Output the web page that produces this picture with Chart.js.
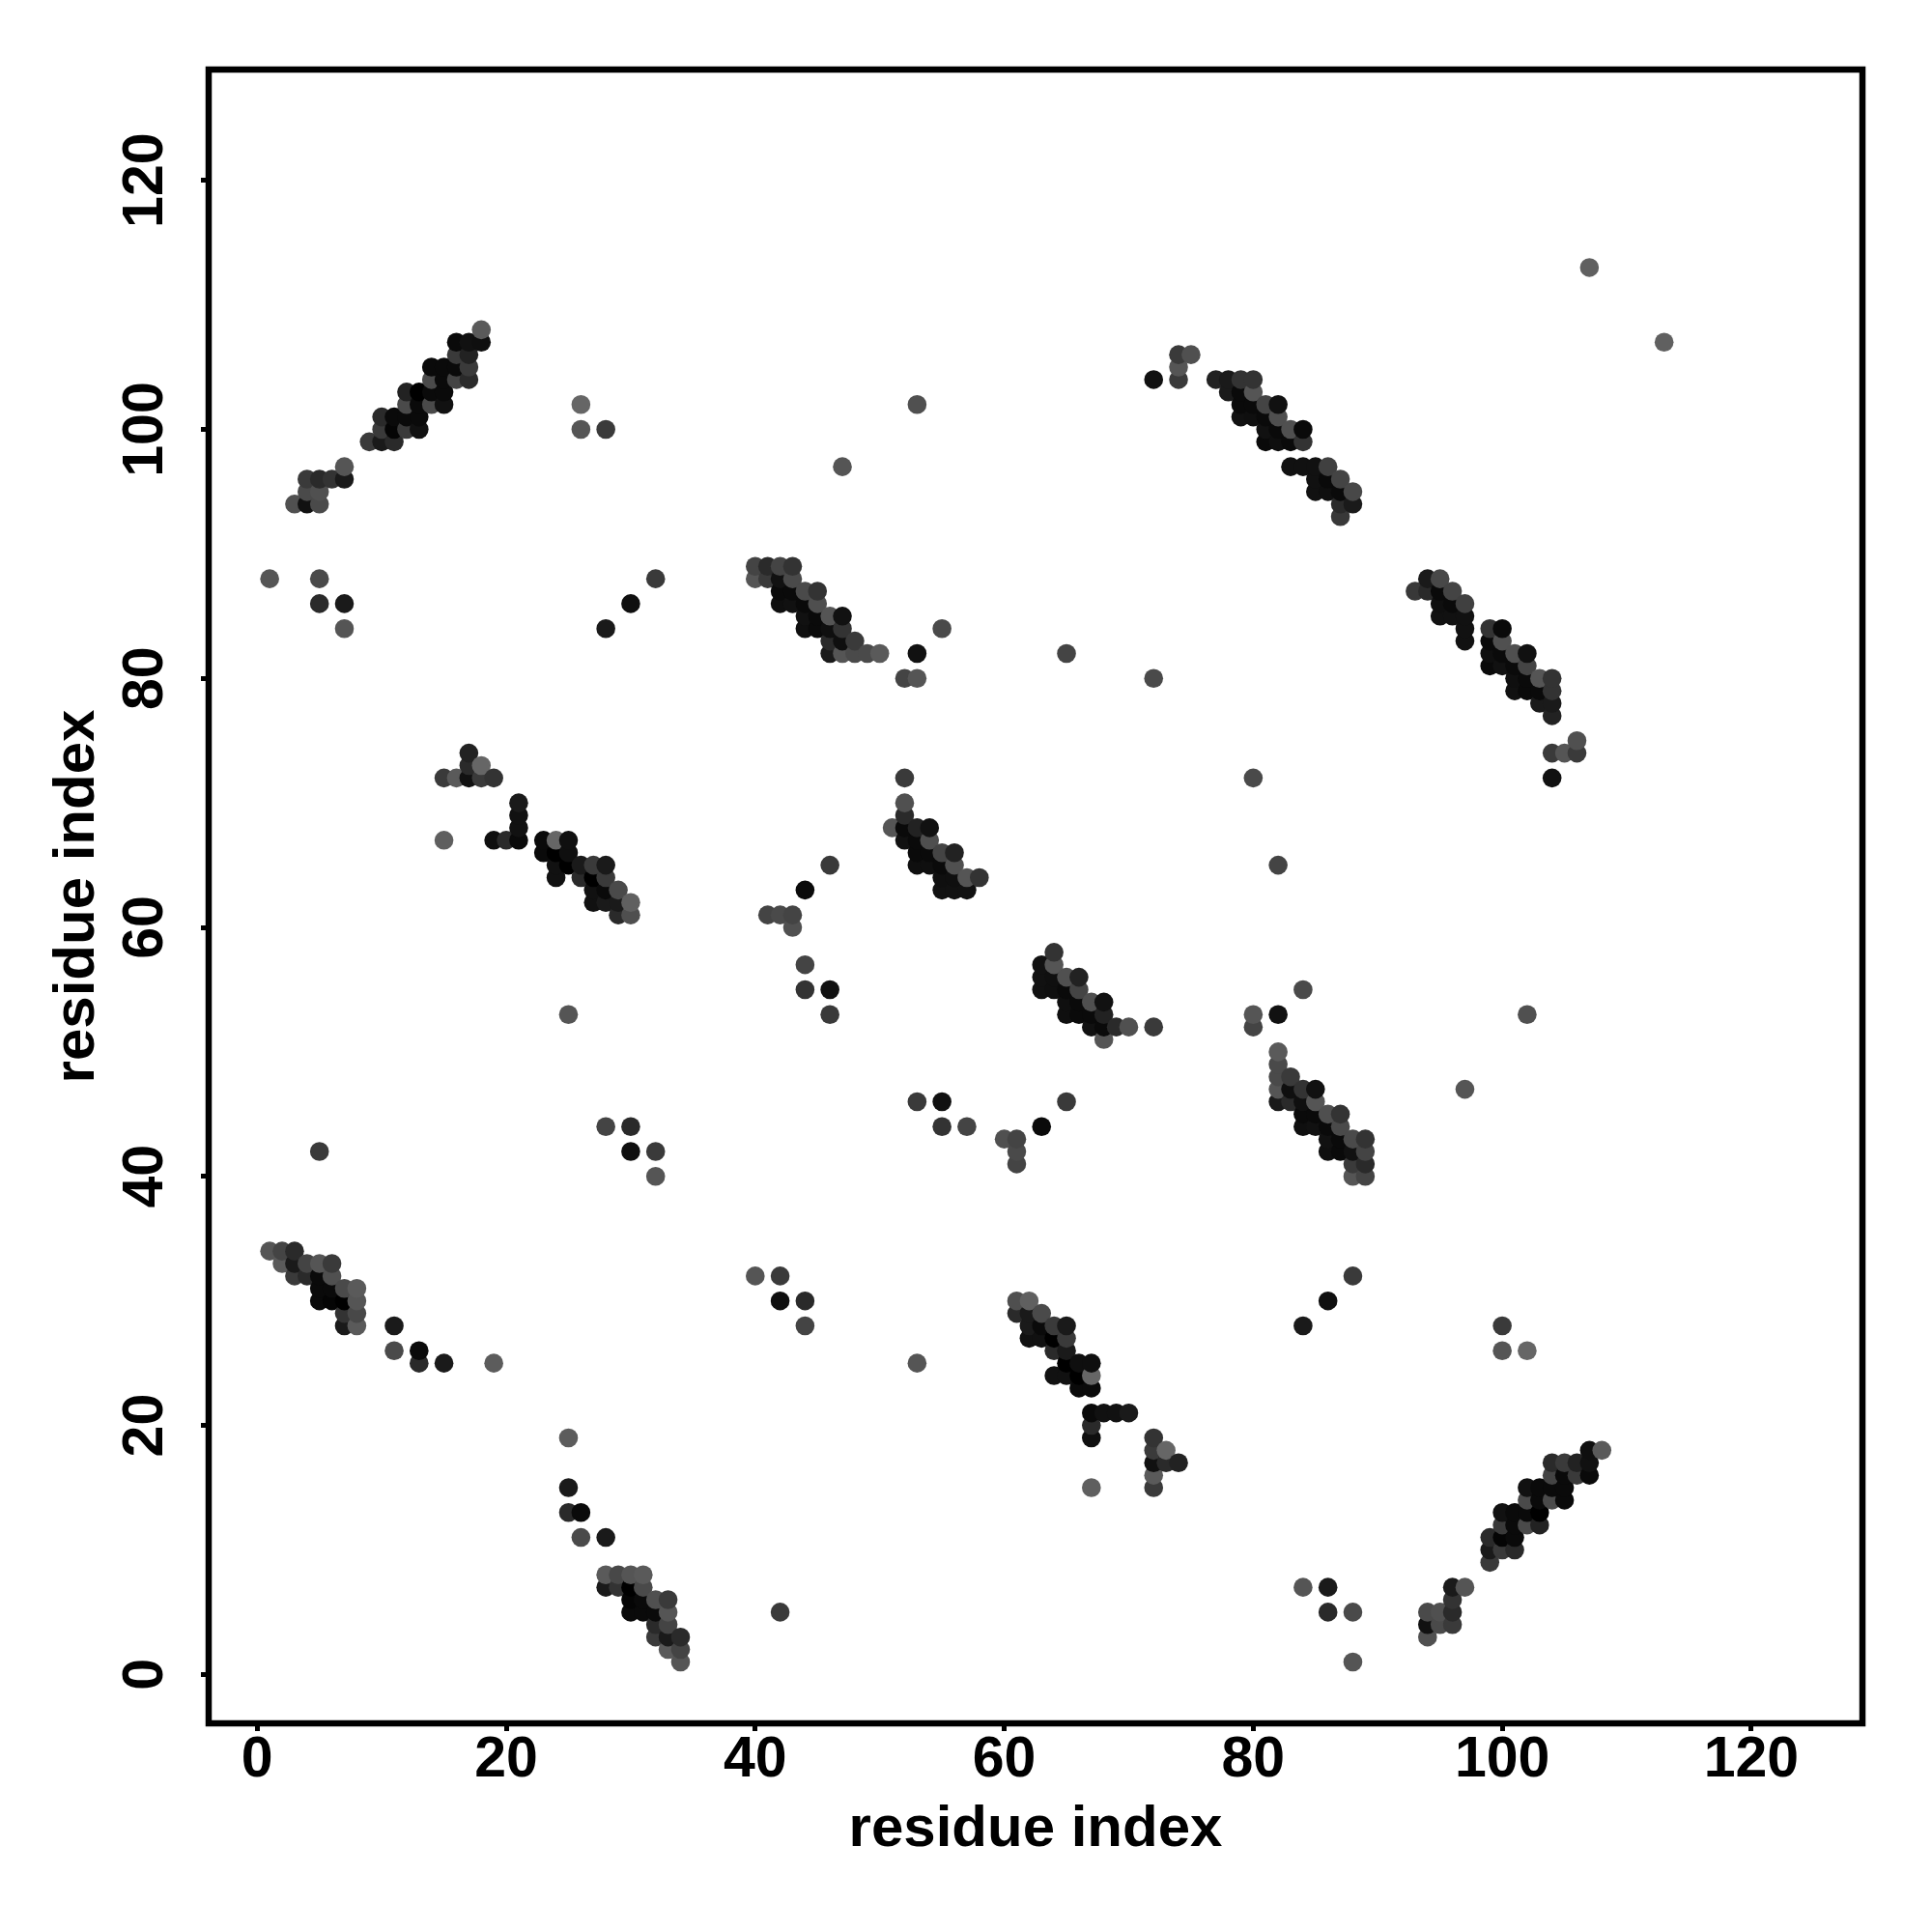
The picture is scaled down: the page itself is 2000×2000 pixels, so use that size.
<!DOCTYPE html>
<html>
<head>
<meta charset="utf-8">
<style>html,body{margin:0;padding:0;background:#fff}canvas{display:block}</style>
<script src="https://cdn.jsdelivr.net/npm/chart.js@4/dist/chart.umd.min.js"></script>
</head>
<body>
<canvas id="c" width="2000" height="2000"></canvas>
<script>
// Upper triangle of the symmetric contact map: residue pairs and their grey level
const resA = [
 1,2,3,2,3,4,5,6,3,4,5,6,5,6,7,8,5,6,7,8,7,8,7,8,11,11,13,13,15,19,
 18,18,17,16,16,17,17,16,17,16,15,14,14,15,15,15,14,14,13,12,12,13,13,13,12,12,11,11,10,10,10,9,11,
 7,7,6,5,4,4,5,5,4,3,
 17,17,18,17,18,19,16,15,15,21,21,21,21,20,19,23,24,25,23,24,25,24,25,24,26,27,28,26,27,28,27,28,29,27,28,29,30,29,30,
 40,41,42,43,40,41,42,43,42,43,44,45,42,43,44,45,44,45,46,47,44,45,46,47,46,47,48,46,47,48,49,50,53,
 52,52,52,51,52,53,54,52,53,54,53,54,55,56,53,54,55,56,55,56,57,58,55,56,57,
 77,78,79,80,78,79,80,79,80,81,82,79,80,81,82,81,82,83,84,81,82,83,84,83,84,85,86,85,86,87,85,86,87,88,87,88,87,
 72,74,74,74,75,
 1,5,5,7,7,5,26,26,28,28,30,32,25,28,30,30,32,32,41,42,43,43,44,46,44,44,46,46,47,53,52,53,55,65,72,107
];
const resB = [
 34,34,34,33,33,33,33,33,32,32,32,32,31,31,31,31,30,30,30,30,29,29,28,28,28,26,26,25,25,25,
 108,107,107,107,106,106,105,105,104,104,105,105,104,104,103,102,103,102,103,103,102,102,101,100,101,100,101,100,101,100,99,99,99,
 97,96,96,96,96,95,95,94,94,94,
 74,73,73,72,72,72,72,72,67,70,69,68,67,67,67,67,67,67,66,66,66,65,65,64,65,65,65,64,64,64,63,63,63,62,62,62,62,61,61,
 89,89,89,89,88,88,88,88,87,87,87,87,86,86,86,86,85,85,85,85,84,84,84,84,83,83,83,82,82,82,82,82,82,
 72,70,69,68,68,68,68,67,67,67,66,66,66,66,65,65,65,65,64,64,64,64,63,63,63,
 104,104,104,104,103,103,103,102,102,102,102,101,101,101,101,100,100,100,100,99,99,99,99,97,97,97,97,96,96,96,95,95,95,95,94,94,93,
 104,106,105,104,106,
 88,88,86,86,84,42,102,100,100,84,86,88,53,44,44,42,42,40,61,61,61,60,63,65,57,55,55,53,97,102,80,80,84,82,80,113
];
const grey = [
 85,68,42,90,26,68,85,58,58,42,10,80,10,10,74,90,10,5,0,85,51,72,26,90,26,74,10,42,26,92,
 90,15,17,10,58,34,58,10,42,68,10,10,74,10,10,17,10,74,0,34,74,10,10,17,10,58,10,5,42,58,26,58,42,
 85,26,51,42,58,74,80,74,17,80,
 34,42,102,17,58,51,90,58,95,26,17,17,10,42,15,10,102,15,10,0,15,17,0,17,26,58,26,42,0,58,17,10,74,17,26,26,96,42,79,
 68,42,68,51,85,58,17,74,10,10,74,51,15,17,10,79,17,10,85,17,15,10,15,51,42,15,58,26,85,74,74,90,17,
 58,80,42,85,10,34,17,17,10,79,10,10,68,34,15,15,10,80,15,15,85,51,17,17,17,
 34,26,51,51,26,10,85,10,10,68,17,17,15,10,79,17,10,80,10,10,15,10,51,17,17,17,64,17,10,68,17,15,10,72,42,26,56,
 17,58,85,58,80,
 85,74,42,26,85,58,102,85,58,26,15,58,85,68,42,15,58,85,68,74,68,80,10,58,68,51,17,58,85,80,68,85,74,68,74,96
];
const tickValues = [0,20,40,60,80,100,120];
const axisTitle = 'residue index';

// The map is symmetric: each pair appears at (a,b) and (b,a). Painted in index order.
const marks = [];
resA.forEach((a,k)=>{
  marks.push({x:a,y:resB[k],g:grey[k]});
  marks.push({x:resB[k],y:a,g:grey[k]});
});
marks.sort((p,q)=>p.x-q.x||p.y-q.y);

const frame = {
  id:'frame',
  afterDatasetsDraw(chart){
    const {ctx,chartArea:a}=chart;
    ctx.save();
    ctx.lineWidth=6.5;ctx.strokeStyle='#000';ctx.lineJoin='miter';
    ctx.strokeRect(a.left,a.top,a.right-a.left,a.bottom-a.top);
    ctx.restore();
  }
};
const FONT='"Liberation Sans", Arial, sans-serif';
const setTicks = s=>{s.ticks=tickValues.map(v=>({value:v}));};
const grid = {drawOnChartArea:false,drawTicks:true,tickLength:8,tickWidth:5,tickColor:'#000'};

new Chart(document.getElementById('c'),{
  type:'scatter',
  data:{datasets:[{
    data:marks.map(m=>({x:m.x,y:m.y})),
    backgroundColor:marks.map(m=>`rgb(${m.g},${m.g},${m.g})`),
    pointRadius:9.8,pointHoverRadius:9.8,borderWidth:0
  }]},
  options:{
    responsive:false,animation:false,
    layout:{padding:{top:72,right:72,left:0,bottom:0}},
    plugins:{legend:{display:false},tooltip:{enabled:false}},
    scales:{
      x:{type:'linear',min:-3.9,max:128.93,
        afterBuildTicks:setTicks,
        afterFit(s){s.height=216;},
        border:{display:false},grid,
        ticks:{color:'#000',font:{family:FONT,weight:'bold',size:59},padding:-5,maxRotation:0,minRotation:0,autoSkip:false,includeBounds:false},
        title:{display:true,text:axisTitle,color:'#000',font:{family:FONT,weight:'bold',size:60},padding:{top:0,bottom:70}}
      },
      y:{type:'linear',min:-3.93,max:128.9,
        afterBuildTicks:setTicks,
        afterFit(s){s.width=216;},
        border:{display:false},grid,
        ticks:{color:'#000',font:{family:FONT,weight:'bold',size:59},padding:7,minRotation:90,maxRotation:90,crossAlign:'center',autoSkip:false,includeBounds:false},
        title:{display:true,text:axisTitle,color:'#000',font:{family:FONT,weight:'bold',size:60},padding:{top:44,bottom:0}}
      }
    }
  },
  plugins:[frame]
});
</script>
</body>
</html>
